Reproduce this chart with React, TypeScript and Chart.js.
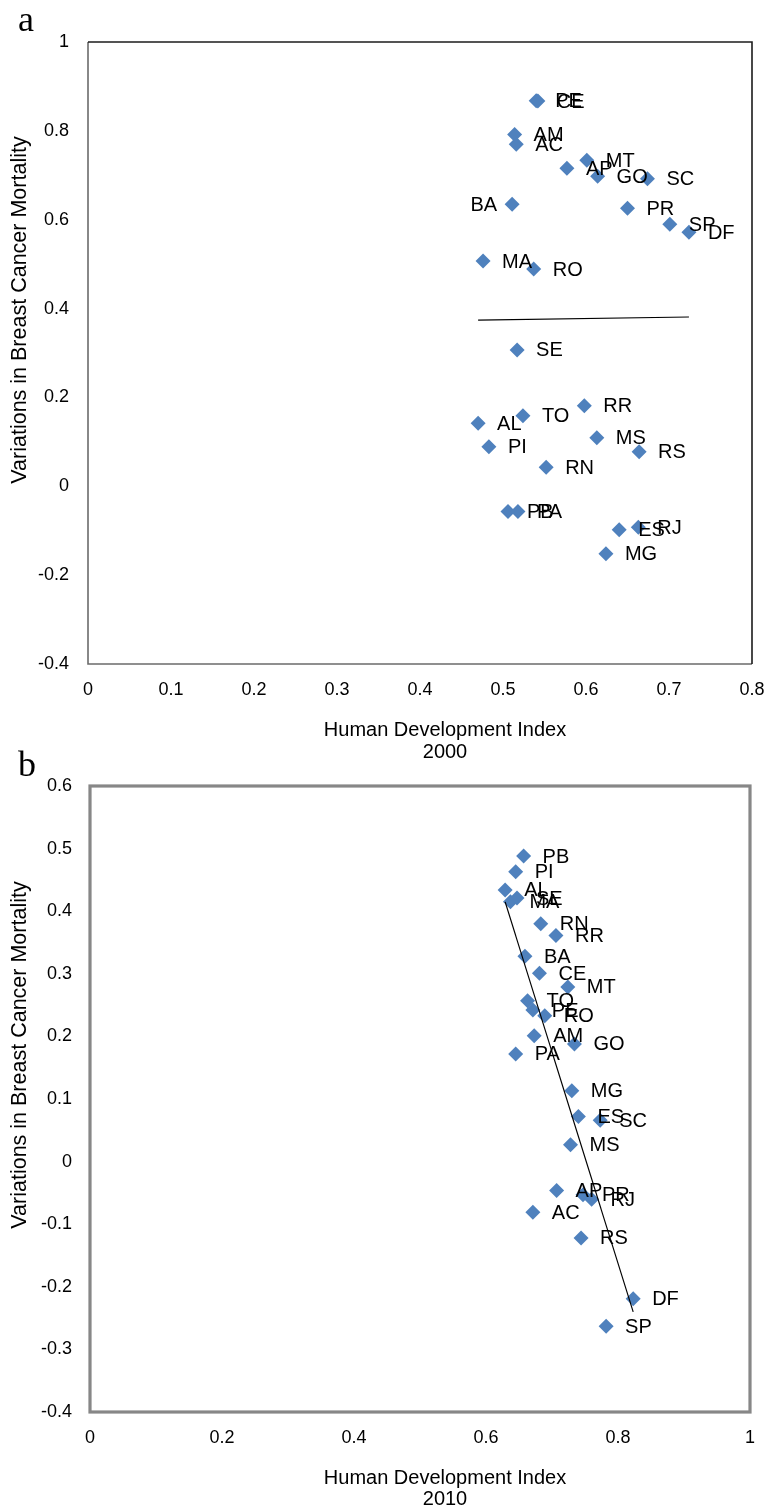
import React, { useEffect, useRef } from "react";
import { Chart, registerables } from "chart.js";

Chart.register(...registerables);

// ---------- Panel a (2000) ----------
const STATES_2000 = ["PE","CE","AM","AC","AP","MT","GO","SC","BA","PR","SP","DF","MA","RO","SE","RR","TO","AL","PI","MS","RS","RN","PB","PA","ES","RJ","MG"];
const HDI_2000 = [0.540,0.542,0.514,0.516,0.577,0.601,0.614,0.674,0.511,0.650,0.701,0.724,0.476,0.537,0.517,0.598,0.524,0.470,0.483,0.613,0.664,0.552,0.506,0.518,0.640,0.663,0.624];
const VAR_2000 = [0.868,0.867,0.792,0.770,0.716,0.734,0.698,0.692,0.635,0.626,0.590,0.572,0.507,0.489,0.307,0.181,0.159,0.142,0.089,0.109,0.078,0.043,-0.057,-0.057,-0.098,-0.092,-0.152];
const TREND_X_2000 = [0.470, 0.724];
const TREND_Y_2000 = [0.374, 0.381];
const LEFT_LABELS_2000 = ["BA"];

// ---------- Panel b (2010) ----------
const STATES_2010 = ["PB","PI","AL","MA","SE","RN","RR","BA","CE","MT","TO","PE","RO","AM","GO","PA","MG","ES","SC","MS","AP","PR","RJ","AC","RS","DF","SP"];
const HDI_2010 = [0.657,0.645,0.629,0.637,0.647,0.683,0.706,0.659,0.681,0.724,0.663,0.671,0.689,0.673,0.734,0.645,0.730,0.740,0.773,0.728,0.707,0.747,0.760,0.671,0.744,0.823,0.782];
const VAR_2010 = [0.488,0.463,0.434,0.415,0.421,0.380,0.361,0.328,0.301,0.279,0.257,0.242,0.233,0.201,0.188,0.172,0.113,0.072,0.066,0.027,-0.046,-0.053,-0.060,-0.081,-0.122,-0.219,-0.263];
const TREND_X_2010 = [0.629, 0.823];
const TREND_Y_2010 = [0.415, -0.240];
const LEFT_LABELS_2010: string[] = [];

const X_TITLE = "Human Development Index";
const Y_TITLE = "Variations in Breast Cancer Mortality";

const FONT = '"Liberation Sans", Arial, Helvetica, sans-serif';
const SERIF = '"Liberation Serif", "Times New Roman", serif';
const W = 769;

type Panel = {
  letter: string;
  year: string;
  names: string[];
  xs: number[];
  ys: number[];
  tx: number[];
  ty: number[];
  leftLabels: string[];
  xMin: number; xMax: number; xStep: number;
  yMin: number; yMax: number; yStep: number;
  top: number; height: number;
  plotLeft: number; plotRight: number; plotTop: number; plotBottom: number;
  frame: "a" | "b";
  tickPadY: number;
  xTitleY: number; yearY: number; yTitleY: number; letterY: number;
};

const fmt = (v: number) => {
  const r = Math.round(v * 10) / 10;
  return String(r === 0 ? 0 : r);
};

function buildConfig(p: Panel): any {
  const pts = p.xs.map((x, i) => ({ x, y: p.ys[i] }));
  const trend = p.tx.map((x, i) => ({ x, y: p.ty[i] }));

  const framePlugin = {
    id: "frame" + p.letter,
    beforeDatasetsDraw(chart: any) {
      const { ctx, chartArea: a } = chart;
      ctx.save();
      if (p.frame === "a") {
        ctx.lineWidth = 1.6;
        ctx.strokeStyle = "#6b6b6b";
        ctx.beginPath();
        ctx.moveTo(a.left, a.top);
        ctx.lineTo(a.left, a.bottom);
        ctx.lineTo(a.right, a.bottom);
        ctx.stroke();
        ctx.strokeStyle = "#1c1c1c";
        ctx.beginPath();
        ctx.moveTo(a.left, a.top);
        ctx.lineTo(a.right, a.top);
        ctx.lineTo(a.right, a.bottom);
        ctx.stroke();
      } else {
        ctx.lineWidth = 3.2;
        ctx.strokeStyle = "#878787";
        ctx.strokeRect(a.left, a.top, a.right - a.left, a.bottom - a.top);
      }
      ctx.restore();
    },
  };

  const labelPlugin = {
    id: "labels" + p.letter,
    afterDatasetsDraw(chart: any) {
      const { ctx } = chart;
      const meta = chart.getDatasetMeta(0);
      ctx.save();
      ctx.font = `20px ${FONT}`;
      ctx.fillStyle = "#000";
      ctx.textBaseline = "middle";
      meta.data.forEach((el: any, i: number) => {
        const name = p.names[i];
        if (p.leftLabels.includes(name)) {
          ctx.textAlign = "right";
          ctx.fillText(name, el.x - 15, el.y + 1);
        } else {
          ctx.textAlign = "left";
          ctx.fillText(name, el.x + 19, el.y + 1);
        }
      });
      ctx.restore();
    },
  };

  const textPlugin = {
    id: "texts" + p.letter,
    afterDraw(chart: any) {
      const { ctx } = chart;
      ctx.save();
      ctx.fillStyle = "#000";
      ctx.textBaseline = "middle";
      ctx.textAlign = "center";
      ctx.font = `20px ${FONT}`;
      ctx.fillText(X_TITLE, 445, p.xTitleY);
      ctx.fillText(p.year, 445, p.yearY);
      ctx.save();
      ctx.translate(20, p.yTitleY);
      ctx.rotate(-Math.PI / 2);
      ctx.font = `21.5px ${FONT}`;
      ctx.fillText(Y_TITLE, 0, 0);
      ctx.restore();
      ctx.font = `36px ${SERIF}`;
      ctx.textAlign = "left";
      ctx.textBaseline = "alphabetic";
      ctx.fillText(p.letter, 18, p.letterY);
      ctx.restore();
    },
  };

  const tickFont = { family: FONT, size: 18 };

  return {
    type: "scatter",
    data: {
      datasets: [
        {
          type: "scatter",
          data: pts,
          pointStyle: "rectRot",
          pointRadius: 7.5,
          pointHoverRadius: 7.5,
          backgroundColor: "#4f81bd",
          borderColor: "#4f81bd",
          borderWidth: 0,
          order: 1,
        },
        {
          type: "line",
          data: trend,
          borderColor: "#000",
          borderWidth: 1.2,
          pointRadius: 0,
          fill: false,
          order: 0,
        },
      ],
    },
    options: {
      animation: false,
      responsive: false,
      events: [],
      layout: { padding: { top: p.plotTop, right: W - p.plotRight, left: 0, bottom: 0 } },
      plugins: { legend: { display: false }, tooltip: { enabled: false } },
      scales: {
        x: {
          type: "linear",
          min: p.xMin,
          max: p.xMax,
          border: { display: false },
          grid: { display: false, drawTicks: false },
          ticks: { stepSize: p.xStep, padding: 15, font: tickFont, color: "#000", callback: (v: any) => fmt(Number(v)), maxRotation: 0, autoSkip: false },
          afterFit: (s: any) => {
            s.height = p.height - p.plotBottom;
            s.paddingLeft = 0;
            s.paddingRight = 0;
          },
        },
        y: {
          type: "linear",
          min: p.yMin,
          max: p.yMax,
          border: { display: false },
          grid: { display: false, drawTicks: false },
          ticks: { stepSize: p.yStep, padding: p.tickPadY, font: tickFont, color: "#000", callback: (v: any) => fmt(Number(v)), autoSkip: false },
          afterFit: (s: any) => {
            s.width = p.plotLeft;
            s.paddingTop = 0;
            s.paddingBottom = 0;
          },
        },
      },
    },
    plugins: [framePlugin, labelPlugin, textPlugin],
  };
}

const PANEL_A: Panel = {
  letter: "a", year: "2000",
  names: STATES_2000, xs: HDI_2000, ys: VAR_2000, tx: TREND_X_2000, ty: TREND_Y_2000, leftLabels: LEFT_LABELS_2000,
  xMin: 0, xMax: 0.8, xStep: 0.1, yMin: -0.4, yMax: 1, yStep: 0.2,
  top: 0, height: 770,
  plotLeft: 88, plotRight: 752, plotTop: 42, plotBottom: 664,
  frame: "a", tickPadY: 19,
  xTitleY: 730, yearY: 752, yTitleY: 310, letterY: 31,
};

const PANEL_B: Panel = {
  letter: "b", year: "2010",
  names: STATES_2010, xs: HDI_2010, ys: VAR_2010, tx: TREND_X_2010, ty: TREND_Y_2010, leftLabels: LEFT_LABELS_2010,
  xMin: 0, xMax: 1, xStep: 0.2, yMin: -0.4, yMax: 0.6, yStep: 0.1,
  top: 740, height: 768,
  plotLeft: 90, plotRight: 750, plotTop: 46, plotBottom: 672,
  frame: "b", tickPadY: 18,
  xTitleY: 738, yearY: 759, yTitleY: 315, letterY: 36,
};

function ChartPanel({ panel }: { panel: Panel }) {
  const ref = useRef<HTMLCanvasElement | null>(null);
  useEffect(() => {
    if (!ref.current) return;
    const chart = new Chart(ref.current, buildConfig(panel));
    return () => chart.destroy();
  }, [panel]);
  return (
    <canvas
      ref={ref}
      width={W}
      height={panel.height}
      style={{ position: "absolute", left: 0, top: panel.top, width: W, height: panel.height }}
    />
  );
}

export default function App() {
  return (
    <div style={{ position: "absolute", left: 0, top: 0, width: W, height: 1508, background: "#fff" }}>
      <ChartPanel panel={PANEL_A} />
      <ChartPanel panel={PANEL_B} />
    </div>
  );
}
